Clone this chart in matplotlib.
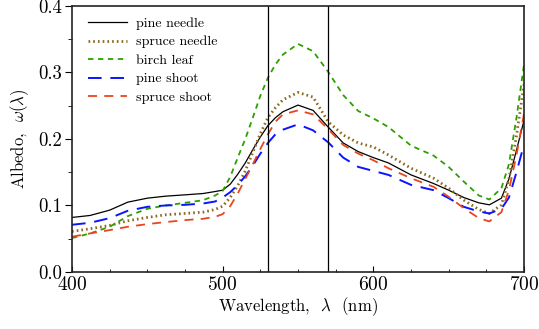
import matplotlib
matplotlib.use("Agg")
import matplotlib.pyplot as plt
from matplotlib.ticker import MultipleLocator, FormatStrFormatter

plt.rcParams['font.family'] = 'cmr10'
plt.rcParams['mathtext.fontset'] = 'cm'
plt.rcParams['axes.formatter.use_mathtext'] = True

wavelength = [400, 412, 425, 437, 450, 462, 475, 487, 495, 500, 505, 510, 515, 520, 525,
              530, 535, 540, 550, 560, 570, 580, 590, 600, 610, 625, 640, 650, 660,
              670, 677, 685, 690, 695, 700]

pine_needle = [.082, .085, .093, .105, .111, .114, .116, .118, .121, .123, .132, .147, .164, .184, .203,
               .220, .232, .241, .251, .243, .218, .194, .181, .172, .164, .146, .133, .123, .112,
               .104, .101, .111, .140, .183, .228]
spruce_needle = [.061, .065, .070, .077, .082, .086, .088, .090, .094, .099, .112, .130, .152, .180, .208,
                 .232, .247, .259, .270, .263, .226, .206, .194, .188, .176, .156, .141, .126, .108,
                 .094, .088, .101, .140, .205, .282]
birch_leaf = [.051, .058, .068, .084, .095, .100, .104, .108, .115, .122, .143, .172, .200, .232, .265,
              .292, .312, .327, .343, .332, .301, .266, .242, .231, .218, .190, .175, .158, .136,
              .115, .109, .126, .162, .232, .312]
pine_shoot = [.071, .074, .081, .092, .098, .100, .101, .103, .106, .112, .120, .131, .144, .160, .178,
              .194, .207, .214, .222, .213, .195, .172, .158, .152, .146, .131, .123, .111, .098,
              .091, .088, .095, .112, .150, .192]
spruce_shoot = [.053, .058, .063, .068, .072, .075, .078, .080, .083, .087, .099, .118, .140, .162, .185,
                .207, .226, .237, .243, .237, .215, .191, .178, .168, .156, .141, .128, .113, .096,
                .081, .076, .090, .123, .176, .238]

markers_x = [530, 570]

fig = plt.figure(figsize=(5.39, 3.29), dpi=100)
ax = fig.add_axes([0.1336, 0.1733, 0.8386, 0.8085])

ax.plot(wavelength, pine_needle, color='black', lw=0.9, label='pine needle')
ax.plot(wavelength, spruce_needle, color='#8c6a1e', lw=2.0, linestyle=(0, (0.6, 1.1)),
        label='spruce needle')
ax.plot(wavelength, birch_leaf, color='#2ca000', lw=1.3, linestyle=(0, (3, 2.5)),
        label='birch leaf')
ax.plot(wavelength, pine_shoot, color='#0a14ff', lw=1.4, linestyle=(0, (7, 4.5)),
        label='pine shoot')
ax.plot(wavelength, spruce_shoot, color='#e8461e', lw=1.3, linestyle=(0, (5, 4)),
        label='spruce shoot')

for xv in markers_x:
    ax.axvline(xv, color='black', lw=0.9)

ax.set_xlim(400, 700)
ax.set_ylim(0.0, 0.4)
ax.xaxis.set_major_locator(MultipleLocator(100))
ax.xaxis.set_minor_locator(MultipleLocator(25))
ax.yaxis.set_major_locator(MultipleLocator(0.1))
ax.yaxis.set_minor_locator(MultipleLocator(0.05))
ax.yaxis.set_major_formatter(FormatStrFormatter('%.1f'))

ax.tick_params(axis='x', which='both', direction='in', top=False)
ax.tick_params(axis='x', which='major', length=4, labelsize=14, pad=3)
ax.tick_params(axis='x', which='minor', length=2.5)
ax.tick_params(axis='y', which='both', direction='out', right=False)
ax.tick_params(axis='y', which='major', length=5, labelsize=13.5, pad=2)
ax.tick_params(axis='y', which='minor', length=3)
for s in ax.spines.values():
    s.set_linewidth(1.2)
    s.set_color('#222222')

ax.set_xlabel(r'Wavelength,  $\lambda$  (nm)', fontsize=12, labelpad=1)
ax.set_ylabel(r'Albedo,  $\omega(\lambda)$', fontsize=12, labelpad=5)

ax.legend(loc='upper left', frameon=False, fontsize=10, handlelength=2.8,
          handletextpad=0.7, labelspacing=0.42, borderaxespad=0.4,
          bbox_to_anchor=(0.01, 1.0))

fig.savefig('out.png', dpi=100)
